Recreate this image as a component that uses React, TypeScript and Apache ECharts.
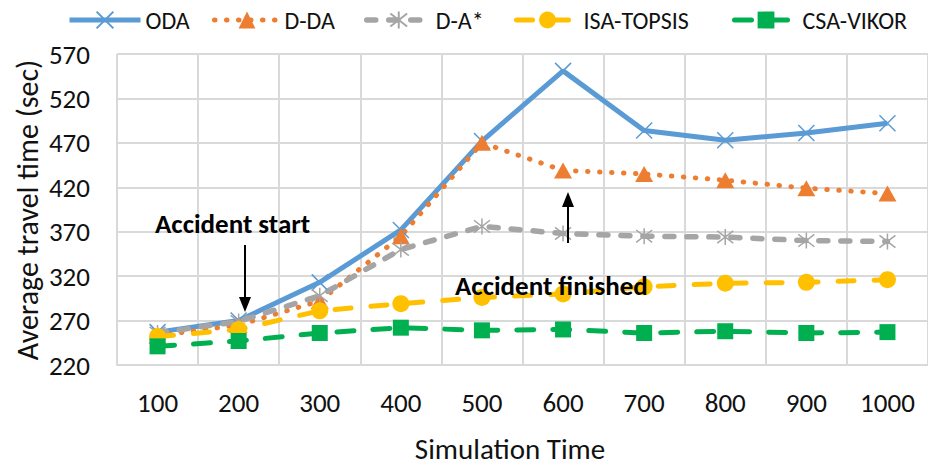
import React, { useEffect, useRef } from "react";
import * as echarts from "echarts";

const categories = ["100", "200", "300", "400", "500", "600", "700", "800", "900", "1000"];
const yTicks = [220, 270, 320, 370, 420, 470, 520, 570];
const seriesNames = ["ODA", "D-DA", "D-A*", "ISA-TOPSIS", "CSA-VIKOR"];
const odaValues = [257, 270, 313, 372, 472, 551, 484, 473, 481, 492];
const ddaValues = [253, 265, 292, 365, 470, 439, 435, 428, 419, 413];
const daStarValues = [256, 269, 298, 350, 376, 368, 365, 364, 360, 359];
const isaTopsisValues = [252, 260, 281, 289, 296, 300, 308, 312, 313, 316];
const csaVikorValues = [241, 247, 256, 262, 259, 260, 256, 258, 256, 257];

const FONT = "Carlito, Lato, sans-serif";

export default function App() {
  const ref = useRef<HTMLDivElement>(null);
  useEffect(() => {
    if (!ref.current) return;
    const chart = echarts.init(ref.current, undefined, { renderer: "svg" });
    const colors = ["#5B9BD5", "#ED7D31", "#A5A5A5", "#FFC000", "#00B050"];
    const legendLeft = [62, 207, 359, 509, 727];
    const legendW = [71, 65, 64, 62, 63];
    const series: any[] = [
      {
        name: seriesNames[0], data: odaValues,
        symbol: "path://M0,0L10,10M10,0L0,10", symbolSize: 16,
        lineStyle: { color: colors[0], width: 5 },
        itemStyle: { color: colors[0], borderColor: colors[0], borderWidth: 1.5 },
      },
      {
        name: seriesNames[1], data: ddaValues,
        symbol: "triangle", symbolSize: [18, 16],
        lineStyle: { color: colors[1], width: 5, type: [0.5, 11.5], cap: "round" },
        itemStyle: { color: colors[1] },
      },
      {
        name: seriesNames[2], data: daStarValues,
        symbol: "path://M0,0L10,10M10,0L0,10M5,-1.5L5,11.5", symbolSize: 16,
        lineStyle: { color: colors[2], width: 5.5, type: [9, 13], cap: "round" },
        itemStyle: { color: colors[2], borderColor: colors[2], borderWidth: 1.5 },
      },
      {
        name: seriesNames[3], data: isaTopsisValues,
        symbol: "circle", symbolSize: 17,
        lineStyle: { color: colors[3], width: 5, type: [16, 20], cap: "round" },
        itemStyle: { color: colors[3] },
      },
      {
        name: seriesNames[4], data: csaVikorValues,
        symbol: "rect", symbolSize: 16,
        lineStyle: { color: colors[4], width: 5, type: [17, 19], cap: "round" },
        itemStyle: { color: colors[4] },
      },
    ].map((s) => ({ ...s, type: "line", showAllSymbol: true }));

    chart.setOption({
      animation: false,
      textStyle: { fontFamily: FONT },
      legend: seriesNames.map((n, i) => ({
        data: [n],
        left: legendLeft[i],
        top: 3,
        itemWidth: legendW[i],
        itemHeight: 21,
        lineStyle: { width: "inherit" },
        textStyle: { fontSize: 24, color: "#111", fontFamily: FONT },
      })),
      grid: { left: 117, top: 54, width: 815, height: 311, containLabel: false },
      xAxis: {
        type: "category",
        data: categories,
        boundaryGap: true,
        axisLine: { show: true, lineStyle: { color: "#d9d9d9", width: 2 } },
        axisTick: { show: false },
        splitLine: { show: true, interval: 0, lineStyle: { color: "#d9d9d9", width: 2 } },
        axisLabel: { interval: 0, fontSize: 27, color: "#111", margin: 24, fontFamily: FONT },
      },
      yAxis: {
        type: "value",
        min: yTicks[0],
        max: yTicks[yTicks.length - 1],
        interval: 10,
        axisLine: { show: false },
        axisTick: { show: false },
        splitLine: {
          show: true,
          lineStyle: {
            color: ["#d9d9d9", "rgba(0,0,0,0)", "rgba(0,0,0,0)", "rgba(0,0,0,0)", "rgba(0,0,0,0)"],
            width: 2,
          },
        },
        axisLabel: {
          fontSize: 27,
          color: "#111",
          margin: 27,
          fontFamily: FONT,
          formatter: (v: number) => (yTicks.includes(v) ? String(v) : ""),
        },
      },
      graphic: [
        {
          type: "text", x: 27, y: 210, rotation: Math.PI / 2,
          style: { text: "Average travel time (sec)", font: `30px ${FONT}`, fill: "#111", align: "center", verticalAlign: "middle" },
        },
        {
          type: "text", x: 510, y: 449,
          style: { text: "Simulation Time", font: `29px ${FONT}`, fill: "#111", align: "center", verticalAlign: "middle" },
        },
        {
          type: "text", x: 155, y: 223, z: 100,
          style: { text: "Accident start", font: `bold 27px ${FONT}`, fill: "#000", verticalAlign: "middle" },
        },
        {
          type: "text", x: 455, y: 285, z: 100,
          style: { text: "Accident finished", font: `bold 27px ${FONT}`, fill: "#000", verticalAlign: "middle" },
        },
        { type: "line", z: 100, shape: { x1: 245, y1: 245, x2: 245, y2: 300 }, style: { stroke: "#000", lineWidth: 2 } },
        { type: "polygon", z: 100, shape: { points: [[239, 297], [251, 297], [245, 312]] }, style: { fill: "#000" } },
        { type: "line", z: 100, shape: { x1: 568, y1: 243, x2: 568, y2: 204 }, style: { stroke: "#000", lineWidth: 2 } },
        { type: "polygon", z: 100, shape: { points: [[562, 207], [574, 207], [568, 192]] }, style: { fill: "#000" } },
      ],
      series,
    });
    return () => chart.dispose();
  }, []);
  return <div ref={ref} style={{ position: "absolute", left: 0, top: 0, width: 928, height: 468 }} />;
}
